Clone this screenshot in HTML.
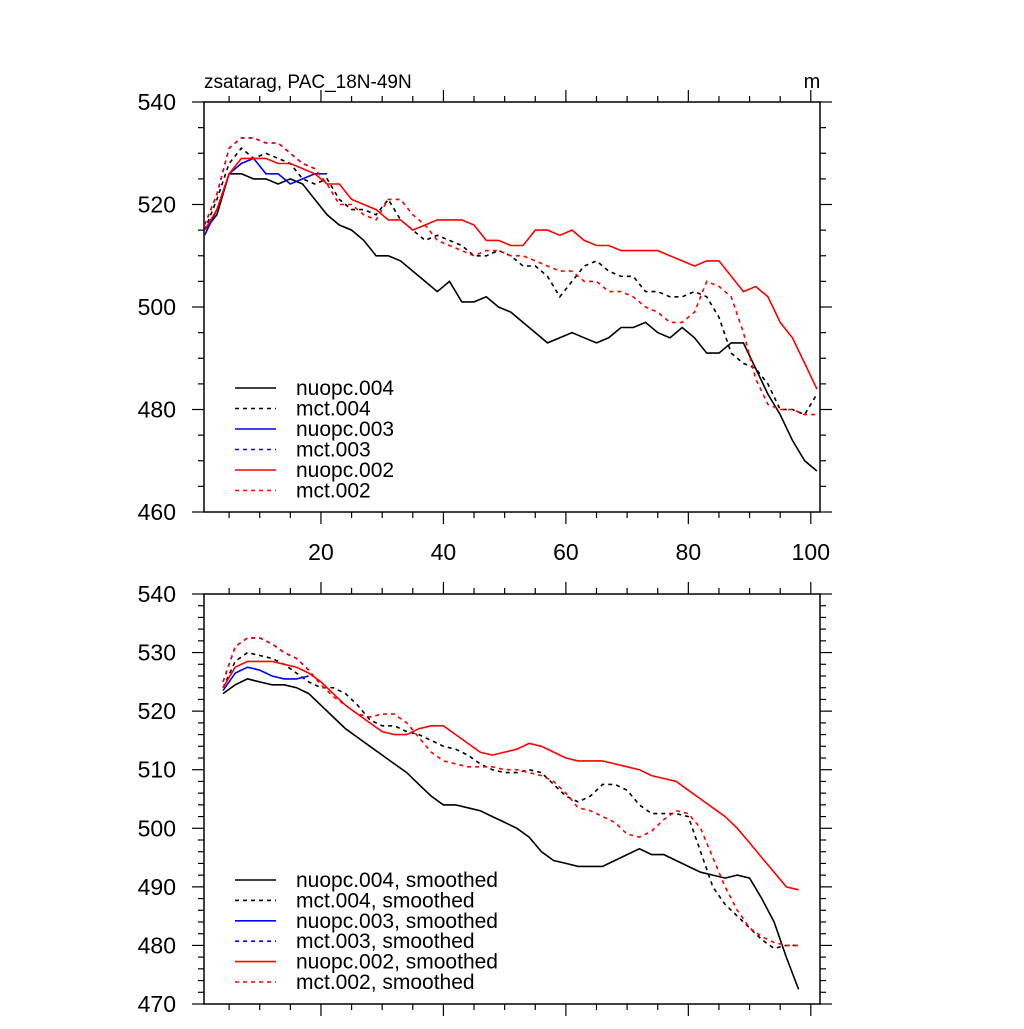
<!DOCTYPE html>
<html><head><meta charset="utf-8"><style>
body{margin:0;background:#fff}
svg text{font-family:"Liberation Sans",sans-serif;fill:#000}
</style></head><body>
<svg id="c" width="1024" height="1024" xmlns="http://www.w3.org/2000/svg"></svg>
<script>
// ---- data ----
const topX0 = 1, topStep = 2;
const nuopc004 = [515,518,526,526,525,525,524,525,524,521,518,516,515,513,510,510,509,507,505,503,505,501,501,502,500,499,497,495,493,494,495,494,493,494,496,496,497,495,494,496,494,491,491,493,493,488,483,479,474,470,468];
const mct004 = [515,521,528,531,529,530,529,528,525,524,525,521,519,519,518,521,517,515,513,514,513,512,510,510,511,510,508,508,506,502,505,508,509,507,506,506,503,503,502,502,503,502,498,491,489,488,485,480,480,479,483];
const nuopc003 = [514,519,526,528,529,526,526,524,525,526,526];
const mct003 = [516,522,531,533,533,532,532,530,528,527];
const nuopc002 = [515,519,526,529,529,529,528,528,527,526,524,524,521,520,519,517,517,515,516,517,517,517,516,513,513,512,512,515,515,514,515,513,512,512,511,511,511,511,510,509,508,509,509,506,503,504,502,497,494,489,484];
const mct002 = [516,522,531,533,533,532,532,530,528,527,524,520,520,518,517,521,521,518,516,513,512,511,510,511,511,510,510,509,508,507,507,505,505,503,503,502,500,499,497,497,499,505,504,502,495,486,481,480,480,479,479];
const botX0 = 4, botStep = 2;
const sNuopc004 = [523,524.5,525.5,525,524.5,524.5,524,523,521,519,517,515.5,514,512.5,511,509.5,507.5,505.5,504,504,503.5,503,502,501,500,498.5,496,494.5,494,493.5,493.5,493.5,494.5,495.5,496.5,495.5,495.5,494.5,493.5,492.5,492,491.5,492,491.5,488,484,478,472.5];
const sMct004 = [524,528.5,530,529.5,529,528,526.5,525,524,524,523,521,518.5,517.5,517.5,516.5,516,515,514,513.5,512.5,511,510,509.5,509.5,510,509.5,507.5,505.5,504.5,505.5,507.5,507.5,506.5,504,502.5,502.5,502.5,502,496,490,487,485,483,481,479.5,480,480];
const sNuopc003 = [523.5,526.5,527.5,527,526,525.5,525.5,526];
const sMct003 = [525,531,532.5,532.5,531.5,530,529,527];
const sNuopc002 = [524,527.5,528.5,528.5,528.5,528,527.5,526.5,525,523,521,519.5,518,516.5,516,516,517,517.5,517.5,516,514.5,513,512.5,513,513.5,514.5,514,513,512,511.5,511.5,511.5,511,510.5,510,509,508.5,508,506.5,505,503.5,502,500,497.5,495,492.5,490,489.5];
const sMct002 = [525,531,532.5,532.5,531.5,530,529,527,524.5,522.5,521,519.5,519,519.5,519.5,518,515.5,513,511.5,511,510.5,510.5,510.5,510,510,509.5,509,508,506,503.5,503,502,501,499,498.5,499.5,501.5,503,502.5,500,495,490,486,483,481.5,480.5,480,480];
const xTicks = [20,40,60,80,100];
const topYTicks = [460,480,500,520,540];
const botYTicks = [470,480,490,500,510,520,530,540];
const topLegend = ["nuopc.004","mct.004","nuopc.003","mct.003","nuopc.002","mct.002"];
const botLegend = ["nuopc.004, smoothed","mct.004, smoothed","nuopc.003, smoothed","mct.003, smoothed","nuopc.002, smoothed","mct.002, smoothed"];
const styles = [["#000",""],["#000","4,4"],["#0000ff",""],["#0000ff","4,4"],["#ff0000",""],["#ff0000","4,4"]];

const svg = document.getElementById('c');
const NS = "http://www.w3.org/2000/svg";
function mk(tag, attrs, parent){const e=document.createElementNS(NS,tag);for(const k in attrs)e.setAttribute(k,attrs[k]);(parent||svg).appendChild(e);return e;}
const L=204, R=820;
const xs = v => 198.5 + v*6.123;

function panel(name, T, B, ymin, ymax, yTicks, minorStep, xLabels, series, x0, step, legend, legY, legDy){
  const g = mk('g',{});
  
  
  const ys = v => B - (v-ymin)/(ymax-ymin)*(B-T);
  mk('rect',{x:L,y:T,width:R-L,height:B-T,fill:'none',stroke:'#000','stroke-width':1.5},g);
  for(let v=5; v<=100; v+=5){
    const X=xs(v), len=(v%20===0)?12:6;
    mk('line',{x1:X,y1:B,x2:X,y2:B+len,stroke:'#000','stroke-width':1.2},g);
    mk('line',{x1:X,y1:T,x2:X,y2:T-len,stroke:'#000','stroke-width':1.2},g);
  }
  if(xLabels){
    xTicks.forEach(v=>{const t=mk('text',{x:xs(v),y:B+48,'font-size':23,'text-anchor':'middle'},g);t.textContent=v;
      
      });
  }
  for(let v=ymin; v<=ymax+0.001; v+=minorStep){
    const Y=ys(v), major=yTicks.includes(Math.round(v)), len=major?12:6;
    mk('line',{x1:L,y1:Y,x2:L-len,y2:Y,stroke:'#000','stroke-width':1.2},g);
    mk('line',{x1:R,y1:Y,x2:R+len,y2:Y,stroke:'#000','stroke-width':1.2},g);
  }
  yTicks.forEach(v=>{const t=mk('text',{x:176,y:ys(v)+8,'font-size':23,'text-anchor':'end'},g);t.textContent=v;
    
    });
  series.forEach((arr,i)=>{
    const pts=arr.map((v,j)=>xs(x0+j*step).toFixed(1)+','+ys(v).toFixed(1)).join(' ');
    const p=mk('polyline',{points:pts,fill:'none',stroke:styles[i][0],'stroke-width':1.6,'stroke-dasharray':styles[i][1]},g);
    
    
  });
  legend.forEach((lab,i)=>{
    const Y=legY+i*legDy;
    const lg=mk('g',{},g);
    
    
    mk('line',{x1:235,y1:Y,x2:276,y2:Y,stroke:styles[i][0],'stroke-width':1.6,'stroke-dasharray':styles[i][1]},lg);
    const t=mk('text',{x:296,y:Y+7,'font-size':21},lg);t.textContent=lab;
  });
}
panel('top-panel',102,512,460,540,topYTicks,5,true,[nuopc004,mct004,nuopc003,mct003,nuopc002,mct002],topX0,topStep,topLegend,388,20.5);
panel('bottom-panel',594,1004,470,540,botYTicks,2,false,[sNuopc004,sMct004,sNuopc003,sMct003,sNuopc002,sMct002],botX0,botStep,botLegend,880,20.4);
const t1=mk('text',{x:204,y:88,'font-size':19});t1.textContent='zsatarag, PAC_18N-49N';


const t2=mk('text',{x:812,y:88,'font-size':20,'text-anchor':'middle'});t2.textContent='m';


</script>
</body></html>
